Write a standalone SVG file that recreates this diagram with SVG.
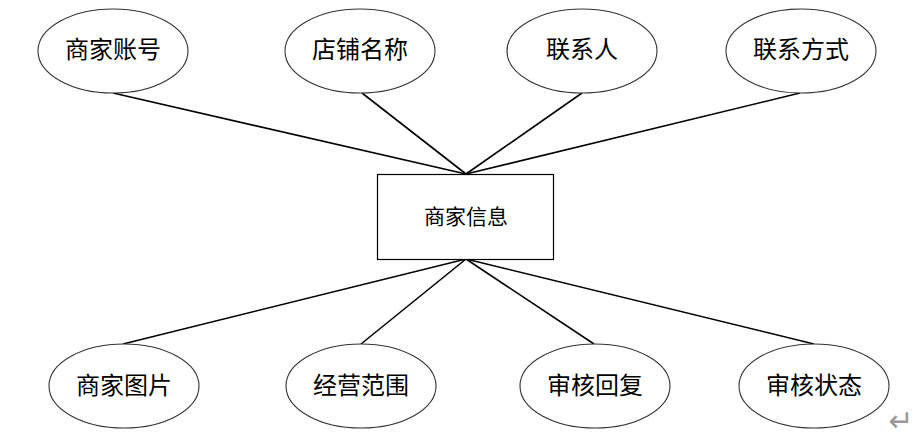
<svg xmlns="http://www.w3.org/2000/svg" width="918" height="440" viewBox="0 0 918 440">
<style>
.attr ellipse{fill:#fff;stroke:#333;stroke-width:1.1}
.ent rect{fill:#fff;stroke:#000;stroke-width:1.2}
text{font-family:"Liberation Serif","Noto Sans CJK SC",serif;fill:#000;text-anchor:middle;dominant-baseline:central}
.big{font-size:24px}
.mid{font-size:21px}
#connectors line{stroke:#000;stroke-width:1.6}
.mark{font-size:30px;fill:#999;font-family:"DejaVu Sans",sans-serif}
</style>
<rect width="918" height="440" fill="#fff"/>
<g id="connectors">
<line x1="113" y1="93" x2="466" y2="174"/>
<line x1="362" y1="93" x2="466" y2="174"/>
<line x1="582" y1="93" x2="466" y2="174"/>
<line x1="800" y1="93" x2="466" y2="174"/>
<line x1="123" y1="344" x2="466" y2="259"/>
<line x1="361" y1="344" x2="466" y2="259"/>
<line x1="594" y1="344" x2="466" y2="259"/>
<line x1="814" y1="344" x2="466" y2="259"/>
</g>
<g id="merchant" class="ent"><rect x="377.5" y="174.5" width="176" height="85"/><text class="mid" x="466" y="217">商家信息</text></g>
<g id="a1" class="attr"><ellipse cx="113" cy="51" rx="75" ry="42"/><text class="big" x="113" y="50">商家账号</text></g>
<g id="a2" class="attr"><ellipse cx="360" cy="51" rx="75" ry="42"/><text class="big" x="360" y="50">店铺名称</text></g>
<g id="a3" class="attr"><ellipse cx="582" cy="51" rx="75" ry="42"/><text class="big" x="582" y="50">联系人</text></g>
<g id="a4" class="attr"><ellipse cx="801" cy="51" rx="75" ry="42"/><text class="big" x="801" y="50">联系方式</text></g>
<g id="a5" class="attr"><ellipse cx="124" cy="386" rx="75" ry="42"/><text class="big" x="124" y="386">商家图片</text></g>
<g id="a6" class="attr"><ellipse cx="361" cy="386" rx="75" ry="42"/><text class="big" x="361" y="386">经营范围</text></g>
<g id="a7" class="attr"><ellipse cx="595" cy="386" rx="75" ry="42"/><text class="big" x="595" y="386">审核回复</text></g>
<g id="a8" class="attr"><ellipse cx="814" cy="386" rx="75" ry="42"/><text class="big" x="814" y="386">审核状态</text></g>
<text class="mark" x="901" y="420">↵</text>
</svg>
